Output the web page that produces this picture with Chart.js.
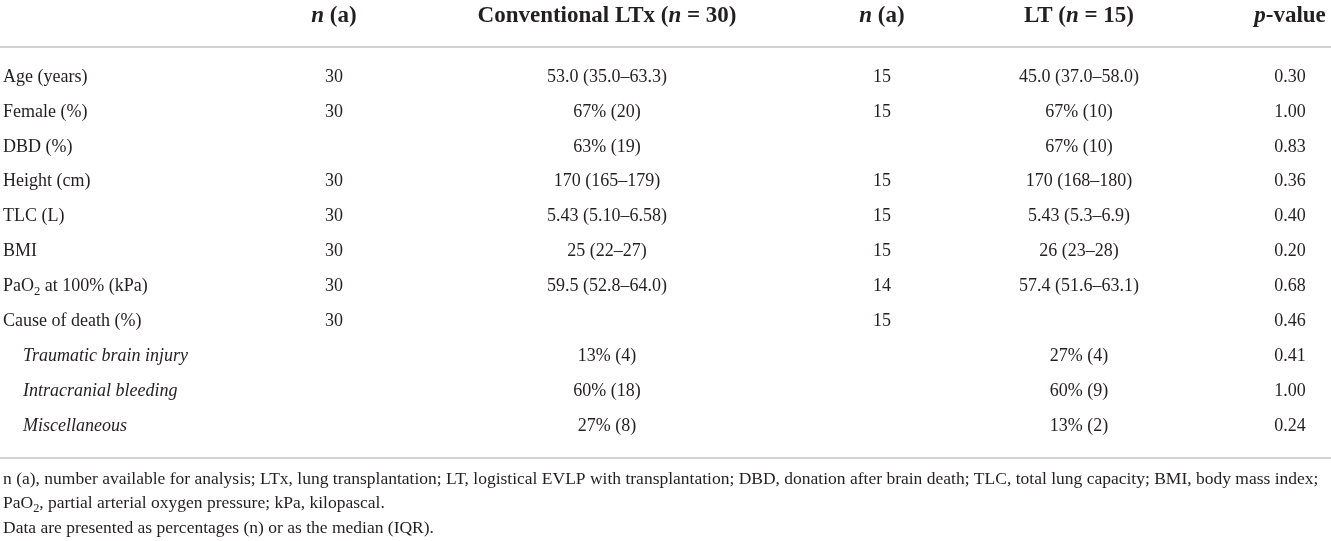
<!DOCTYPE html>
<html>
<head>
<meta charset="utf-8">
<script src="https://cdn.jsdelivr.net/npm/chart.js@4.4.0/dist/chart.umd.min.js"></script>
<style>
  html, body { margin: 0; padding: 0; background: #fff; }
  #wrap { width: 1331px; height: 541px; }
</style>
</head>
<body>
<div id="wrap"><canvas id="donorTable" width="1331" height="541"></canvas></div>
<script>
// table content  (*...* = italic, {...} = subscript)
const headers = ["", "*n* (a)", "Conventional LTx (*n* = 30)", "*n* (a)", "LT (*n* = 15)", "*p*-value"];
const rowLabels = ["Age (years)", "Female (%)", "DBD (%)", "Height (cm)", "TLC (L)", "BMI",
                   "PaO{2} at 100% (kPa)", "Cause of death (%)",
                   "Traumatic brain injury", "Intracranial bleeding", "Miscellaneous"];
const subRow = [false, false, false, false, false, false, false, false, true, true, true];
const nConventional = ["30", "30", "", "30", "30", "30", "30", "30", "", "", ""];
const conventional = ["53.0 (35.0–63.3)", "67% (20)", "63% (19)", "170 (165–179)", "5.43 (5.10–6.58)",
                      "25 (22–27)", "59.5 (52.8–64.0)", "", "13% (4)", "60% (18)", "27% (8)"];
const nLT = ["15", "15", "", "15", "15", "15", "14", "15", "", "", ""];
const logisticalLT = ["45.0 (37.0–58.0)", "67% (10)", "67% (10)", "170 (168–180)", "5.43 (5.3–6.9)",
                      "26 (23–28)", "57.4 (51.6–63.1)", "", "27% (4)", "60% (9)", "13% (2)"];
const pValues = ["0.30", "1.00", "0.83", "0.36", "0.40", "0.20", "0.68", "0.46", "0.41", "1.00", "0.24"];
const footnotes = [
  "n (a), number available for analysis; LTx, lung transplantation; LT, logistical EVLP with transplantation; DBD, donation after brain death; TLC, total lung capacity; BMI, body mass index;",
  "PaO{2}, partial arterial oxygen pressure; kPa, kilopascal.",
  "Data are presented as percentages (n) or as the median (IQR)."
];

// layout
const FONT = '"Liberation Serif", "DejaVu Serif", serif';
const INK = "#231f20";
const colX = [3, 334, 607, 882, 1079, 1290];
const subIndent = 20;
const headerRow = -1.75;
const ruleRows = [-0.86, 10.92];
const footRows = [11.52, 12.21, 12.92];

function parseRuns(str) {
  const runs = [];
  let italic = false, sub = false, buf = "";
  for (const ch of str) {
    if (ch === "*" || ch === "{" || ch === "}") {
      if (buf) runs.push({ t: buf, italic, sub });
      buf = "";
      if (ch === "*") italic = !italic;
      else sub = ch === "{";
    } else {
      buf += ch;
    }
  }
  if (buf) runs.push({ t: buf, italic, sub });
  return runs;
}

function drawRich(ctx, str, x, y, align, style) {
  if (!str) return;
  const runs = parseRuns(str);
  const fontFor = r => {
    const size = r.sub ? style.size * 0.7 : style.size;
    return `${(r.italic || style.italic) ? "italic " : ""}${style.bold ? "bold " : ""}${size}px ${FONT}`;
  };
  let total = 0;
  runs.forEach(r => { ctx.font = fontFor(r); r.w = ctx.measureText(r.t).width; total += r.w; });
  let cx = align === "center" ? x - total / 2 : x;
  ctx.textAlign = "left";
  ctx.textBaseline = "middle";
  runs.forEach(r => {
    ctx.font = fontFor(r);
    ctx.fillText(r.t, cx, y + (r.sub ? style.size * 0.3 : 0));
    cx += r.w;
  });
}

const columns = [rowLabels, nConventional, conventional, nLT, logisticalLT, pValues];

const datasets = columns.map((texts, c) => ({
  texts: texts,
  align: c === 0 ? "left" : "center",
  styles: texts.map((_, r) => ({ size: 18, italic: c === 0 && subRow[r], bold: false })),
  data: texts.map((_, r) => ({ x: colX[c] + (c === 0 && subRow[r] ? subIndent : 0), y: r }))
}));

datasets.push({
  texts: headers,
  align: "center",
  styles: headers.map(() => ({ size: 23, italic: false, bold: true })),
  data: headers.map((_, c) => ({ x: colX[c], y: headerRow }))
});

datasets.push({
  texts: footnotes,
  align: "left",
  styles: footnotes.map(() => ({ size: 17.5, italic: false, bold: false })),
  data: footnotes.map((_, i) => ({ x: colX[0], y: footRows[i] }))
});

const tableText = {
  id: "tableText",
  afterDatasetsDraw(chart) {
    const ctx = chart.ctx;
    const area = chart.chartArea;
    const yScale = chart.scales.y;
    ctx.save();
    ctx.strokeStyle = "#d2d2d2";
    ctx.lineWidth = 2;
    ruleRows.forEach(v => {
      const py = Math.round(yScale.getPixelForValue(v));
      ctx.beginPath();
      ctx.moveTo(area.left, py);
      ctx.lineTo(area.right, py);
      ctx.stroke();
    });
    ctx.fillStyle = INK;
    chart.data.datasets.forEach((ds, i) => {
      chart.getDatasetMeta(i).data.forEach((pt, j) => {
        drawRich(ctx, ds.texts[j], pt.x, pt.y, ds.align, ds.styles[j]);
      });
    });
    ctx.restore();
  }
};

new Chart(document.getElementById("donorTable"), {
  type: "scatter",
  data: { datasets: datasets.map(d => Object.assign(d, { pointRadius: 0, pointHoverRadius: 0 })) },
  options: {
    responsive: false,
    animation: false,
    events: [],
    layout: { padding: 0 },
    plugins: { legend: { display: false }, tooltip: { enabled: false } },
    scales: {
      x: { type: "linear", display: false, min: 0, max: 1331 },
      y: { type: "linear", display: false, min: -2.206, max: 13.295, reverse: true }
    }
  },
  plugins: [tableText]
});
</script>
</body>
</html>
